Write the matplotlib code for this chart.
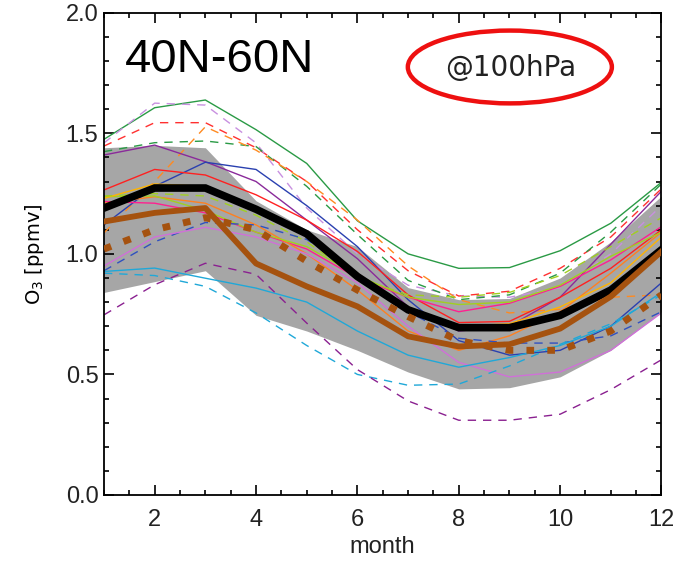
import matplotlib
matplotlib.use("Agg")
import matplotlib.pyplot as plt
from matplotlib.patches import Ellipse
from matplotlib.ticker import MultipleLocator
from matplotlib import font_manager

# monthly ozone climatologies at 100 hPa, 40N-60N (ppmv)
months = list(range(1, 13))

band_hi = [1.44, 1.45, 1.44, 1.22, 1.10, 1.03, 0.86, 0.81, 0.815, 0.90, 1.05, 1.24]
band_lo = [0.84, 0.885, 0.93, 0.745, 0.68, 0.60, 0.51, 0.44, 0.445, 0.49, 0.60, 0.76]

green_solid = [1.475, 1.606, 1.638, 1.515, 1.375, 1.137, 1.00, 0.94, 0.943, 1.013, 1.127, 1.297]
red_dash = [1.447, 1.544, 1.544, 1.44, 1.30, 1.10, 0.93, 0.825, 0.845, 0.94, 1.07, 1.27]
plum_dash = [1.46, 1.625, 1.617, 1.46, 1.19, 1.00, 0.87, 0.825, 0.82, 0.86, 1.00, 1.20]
green_dash = [1.424, 1.461, 1.468, 1.445, 1.28, 1.08, 0.89, 0.81, 0.83, 0.92, 1.09, 1.29]
orange_dash = [1.087, 1.30, 1.527, 1.43, 1.30, 1.14, 0.95, 0.81, 0.755, 0.77, 0.82, 0.83]
purple_solid = [1.41, 1.451, 1.382, 1.30, 1.14, 0.98, 0.78, 0.68, 0.70, 0.82, 1.04, 1.26]
blue_solid = [1.12, 1.28, 1.38, 1.35, 1.20, 1.03, 0.81, 0.64, 0.58, 0.60, 0.70, 0.88]
red_solid = [1.265, 1.35, 1.327, 1.245, 1.14, 1.01, 0.83, 0.715, 0.72, 0.82, 0.94, 1.10]
pink_solid = [1.217, 1.21, 1.17, 1.09, 1.02, 0.90, 0.82, 0.76, 0.795, 0.865, 0.975, 1.113]
orange_solid = [1.21, 1.237, 1.21, 1.12, 1.00, 0.85, 0.68, 0.60, 0.66, 0.76, 0.92, 1.09]
lime_solid = [1.237, 1.24, 1.18, 1.09, 1.03, 0.91, 0.82, 0.79, 0.80, 0.87, 0.99, 1.09]
gold_solid = [1.23, 1.29, 1.28, 1.19, 1.08, 0.92, 0.77, 0.70, 0.71, 0.78, 0.88, 1.07]
lime_dash = [1.24, 1.25, 1.24, 1.16, 1.05, 0.90, 0.83, 0.82, 0.84, 0.91, 1.03, 1.15]
blue_dash = [0.93, 1.05, 1.13, 1.12, 1.06, 0.92, 0.76, 0.65, 0.63, 0.63, 0.66, 0.76]
orchid_solid = [0.95, 1.07, 1.11, 1.07, 1.00, 0.88, 0.70, 0.55, 0.49, 0.51, 0.60, 0.755]
cyan_solid = [0.927, 0.941, 0.899, 0.858, 0.80, 0.68, 0.58, 0.53, 0.57, 0.62, 0.70, 0.84]
cyan_dash = [0.92, 0.91, 0.865, 0.755, 0.62, 0.50, 0.455, 0.46, 0.535, 0.625, 0.71, 0.83]
purple_dash = [0.747, 0.872, 0.961, 0.915, 0.713, 0.52, 0.39, 0.31, 0.31, 0.335, 0.437, 0.561]

mmm = [1.19, 1.273, 1.273, 1.185, 1.083, 0.906, 0.768, 0.694, 0.694, 0.745, 0.85, 1.017]
obs_solid = [1.134, 1.17, 1.19, 0.96, 0.865, 0.782, 0.658, 0.616, 0.625, 0.69, 0.823, 1.01]
obs_dash = [1.02, 1.10, 1.15, 1.10, 0.97, 0.85, 0.74, 0.64, 0.60, 0.60, 0.68, 0.83]

names = [f.name for f in font_manager.fontManager.ttflist]
tick_font = "Liberation Sans Narrow" if "Liberation Sans Narrow" in names else "Liberation Sans"

fig = plt.figure(figsize=(6.77, 5.65), dpi=100)
ax = fig.add_axes([0.1536, 0.1239, 0.8235, 0.8536])

ax.fill_between(months, band_lo, band_hi, color="#a6a6a6", lw=0, zorder=1)

dash = (0, (6, 5))
thin = [
    (green_solid, "#2a9a45", "-"),
    (red_dash, "#ff3030", dash),
    (plum_dash, "#c890e0", dash),
    (green_dash, "#2a9a45", dash),
    (orange_dash, "#ff8a20", dash),
    (purple_solid, "#8a2a9a", "-"),
    (blue_solid, "#2a40b0", "-"),
    (red_solid, "#ff2020", "-"),
    (pink_solid, "#ff2090", "-"),
    (orange_solid, "#ff8020", "-"),
    (lime_solid, "#a0d020", "-"),
    (gold_solid, "#ffb400", "-"),
    (lime_dash, "#a0d020", dash),
    (blue_dash, "#3050c0", dash),
    (orchid_solid, "#d070d8", "-"),
    (cyan_solid, "#20a8d8", "-"),
    (cyan_dash, "#20a8d8", dash),
    (purple_dash, "#8a2090", dash),
]
for vals, c, ls in thin:
    ax.plot(months, vals, color=c, ls=ls, lw=1.0, zorder=2)

ax.plot(months, mmm, color="black", lw=5.5, zorder=3, solid_joinstyle="miter")
ax.plot(months, obs_dash, color="#a5520f", lw=5, ls=(0, (1.1, 1.9)), zorder=4)
ax.plot(months, obs_solid, color="#a5520f", lw=4.2, zorder=4)

ax.set_xlim(1, 12)
ax.set_ylim(0, 2)
ax.xaxis.set_major_locator(MultipleLocator(2))
ax.xaxis.set_minor_locator(MultipleLocator(0.5))
ax.yaxis.set_major_locator(MultipleLocator(0.5))
ax.yaxis.set_minor_locator(MultipleLocator(0.1))
ax.set_xticks([2, 4, 6, 8, 10, 12])
ax.set_yticks([0, 0.5, 1.0, 1.5, 2.0])
ax.set_yticklabels(["0.0", "0.5", "1.0", "1.5", "2.0"])
ax.tick_params(which="both", direction="in", top=True, right=True, width=1.2)
ax.tick_params(which="major", length=7)
ax.tick_params(which="minor", length=3.5)
ax.tick_params(axis="x", pad=10)
ax.tick_params(axis="y", pad=4)
for lab in ax.get_xticklabels() + ax.get_yticklabels():
    lab.set_fontfamily(tick_font)
    lab.set_fontsize(17)
    lab.set_color("#222222")
for sp in ax.spines.values():
    sp.set_linewidth(1.3)

ax.set_xlabel("month", fontfamily=tick_font, fontsize=17, labelpad=4, color="#222222")
ax.set_ylabel(r"O$_3$ [ppmv]", fontsize=14, labelpad=14)

ax.text(0.038, 0.902, "40N-60N", transform=ax.transAxes, fontsize=34,
        fontfamily="Liberation Sans", va="center", ha="left", zorder=6)
ax.text(0.730, 0.885, "@100hPa", transform=ax.transAxes, fontsize=20,
        va="center", ha="center", color="#222222", zorder=6)
ax.add_patch(Ellipse((0.728, 0.8875), 0.366, 0.151, transform=ax.transAxes,
                     fill=False, ec="#ee1010", lw=3.2, zorder=6))

fig.savefig("out.png", dpi=100)
